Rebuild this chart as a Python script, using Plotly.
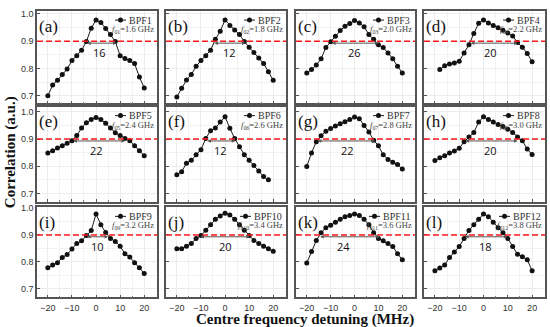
import plotly.graph_objects as go

W, H = 550, 327

x_full = [-20, -18, -16, -14, -12, -10, -8, -6, -4, -2, 0, 2, 4, 6, 8, 10, 12, 14, 16, 18, 20]
x_from_m18 = x_full[1:]
x_to_18 = x_full[:-1]

bpf1 = [0.700, 0.740, 0.757, 0.778, 0.798, 0.829, 0.847, 0.867, 0.899, 0.948, 0.978, 0.969, 0.947, 0.925, 0.899, 0.847, 0.837, 0.829, 0.818, 0.769, 0.729]
bpf2 = [0.696, 0.728, 0.758, 0.778, 0.808, 0.829, 0.847, 0.867, 0.907, 0.937, 0.978, 0.958, 0.941, 0.925, 0.899, 0.878, 0.859, 0.839, 0.818, 0.788, 0.757]
bpf3 = [0.784, 0.796, 0.813, 0.836, 0.877, 0.898, 0.918, 0.939, 0.955, 0.965, 0.976, 0.967, 0.953, 0.925, 0.907, 0.887, 0.877, 0.857, 0.836, 0.808, 0.784]
bpf4 = [0.796, 0.810, 0.817, 0.820, 0.827, 0.857, 0.887, 0.928, 0.966, 0.978, 0.967, 0.958, 0.949, 0.940, 0.930, 0.919, 0.895, 0.878, 0.855, 0.825]
bpf5 = [0.849, 0.857, 0.867, 0.875, 0.885, 0.894, 0.913, 0.941, 0.960, 0.972, 0.979, 0.972, 0.958, 0.941, 0.923, 0.913, 0.902, 0.894, 0.875, 0.857, 0.839]
bpf6 = [0.769, 0.780, 0.811, 0.822, 0.842, 0.861, 0.902, 0.931, 0.941, 0.963, 0.982, 0.940, 0.902, 0.872, 0.842, 0.822, 0.803, 0.782, 0.762, 0.750]
bpf7 = [0.799, 0.849, 0.890, 0.912, 0.929, 0.939, 0.948, 0.956, 0.964, 0.972, 0.981, 0.975, 0.950, 0.926, 0.896, 0.875, 0.842, 0.825, 0.815, 0.806, 0.790]
bpf8 = [0.821, 0.831, 0.839, 0.849, 0.856, 0.866, 0.890, 0.908, 0.924, 0.963, 0.982, 0.972, 0.963, 0.954, 0.946, 0.936, 0.924, 0.908, 0.894, 0.863, 0.843]
bpf9 = [0.778, 0.788, 0.797, 0.816, 0.827, 0.848, 0.868, 0.878, 0.898, 0.916, 0.978, 0.938, 0.909, 0.887, 0.876, 0.858, 0.830, 0.818, 0.797, 0.778, 0.757]
bpf10 = [0.849, 0.849, 0.858, 0.868, 0.887, 0.898, 0.917, 0.938, 0.958, 0.970, 0.981, 0.974, 0.958, 0.938, 0.917, 0.898, 0.879, 0.868, 0.858, 0.849, 0.839]
bpf11 = [0.796, 0.838, 0.879, 0.908, 0.927, 0.936, 0.947, 0.958, 0.968, 0.972, 0.978, 0.972, 0.958, 0.938, 0.908, 0.887, 0.878, 0.868, 0.857, 0.830, 0.808]
bpf12 = [0.767, 0.777, 0.788, 0.816, 0.837, 0.857, 0.887, 0.916, 0.938, 0.958, 0.978, 0.968, 0.947, 0.927, 0.908, 0.887, 0.857, 0.828, 0.819, 0.808, 0.767]

series_x = [x_full, x_full, x_full, x_from_m18, x_full, x_to_18,
            x_full, x_full, x_full, x_full, x_full, x_full]
series_y = [bpf1, bpf2, bpf3, bpf4, bpf5, bpf6, bpf7, bpf8, bpf9, bpf10, bpf11, bpf12]
names = ["BPF%d" % (i + 1) for i in range(12)]
panel_tags = ["(a)", "(b)", "(c)", "(d)", "(e)", "(f)", "(g)", "(h)", "(i)", "(j)", "(k)", "(l)"]
centre_freqs = [1.6, 1.8, 2.0, 2.2, 2.4, 2.6, 2.8, 3.0, 3.2, 3.4, 3.6, 3.8]
threshold = 0.9

# bandwidth markers: left/right ends of the arrow, label value, label x
bw_left = [-4.3, -5.0, -10.0, -5.8, -10.0, -7.9, -16.0, -8.0, -4.3, -10.8, -15.0, -8.2]
bw_right = [8.5, 8.5, 10.0, 14.0, 12.0, 4.2, 8.6, 14.0, 5.0, 10.3, 10.7, 9.8]
bw_text = ["16", "12", "26", "20", "22", "12", "22", "20", "10", "20", "24", "18"]
bw_label_x = [1.5, 2.0, 0.0, 3.0, 0.0, -1.8, -3.0, 3.0, 0.4, 0.0, -4.7, 0.7]

# layout geometry (pixels)
cols = [(37, 157), (166, 286), (296, 415), (424, 545)]
rows = [(7.3, 100.7), (104, 200), (206, 297)]
yranges = [[0.672, 1.010], [0.670, 1.019], [0.668, 1.002]]
xrange_ = [-24.5, 25.3]

serif = "Liberation Serif, Times New Roman, serif"
sans = "Liberation Sans Narrow, Liberation Sans, Arial, sans-serif"

fig = go.Figure()
layout = dict(width=W, height=H, margin=dict(l=0, r=0, t=0, b=0),
              paper_bgcolor="white", plot_bgcolor="white", showlegend=False)
shapes = []
annotations = []

for i in range(12):
    r, c = divmod(i, 4)
    k = i + 1
    xa = "xaxis" if k == 1 else "xaxis%d" % k
    ya = "yaxis" if k == 1 else "yaxis%d" % k
    xr = "x" if k == 1 else "x%d" % k
    yr = "y" if k == 1 else "y%d" % k
    x0, x1 = cols[c]
    t0, t1 = rows[r]
    pw = x1 - x0
    layout[xa] = dict(
        domain=[x0 / W, x1 / W], range=xrange_, anchor=yr,
        tickmode="array", tickvals=[-20, -10, 0, 10, 20],
        showticklabels=(r == 2), ticks="inside", ticklen=3, tickcolor="#555",
        ticklabelstandoff=1,
        tickfont=dict(family=sans, size=9, color="#333"),
        showline=True, linecolor="#555", linewidth=1.5, mirror=True,
        showgrid=True, gridcolor="#ececec", gridwidth=0.6, zeroline=False,
        minor=dict(dtick=5, tick0=0, ticks="inside", ticklen=2, tickcolor="#777",
                   showgrid=True, gridcolor="#f2f2f2"),
    )
    layout[ya] = dict(
        domain=[1 - t1 / H, 1 - t0 / H], range=yranges[r], anchor=xr,
        tickmode="array", tickvals=[0.7, 0.8, 0.9, 1.0], ticktext=["0.7", "0.8", "0.9", "1.0"],
        showticklabels=(c == 0), ticks="inside", ticklen=3, tickcolor="#555",
        tickfont=dict(family=sans, size=9, color="#333"),
        showline=True, linecolor="#555", linewidth=1.5, mirror=True,
        showgrid=True, gridcolor="#ececec", gridwidth=0.6, zeroline=False,
        minor=dict(dtick=0.05, tick0=0.7, ticks="", showgrid=True, gridcolor="#f2f2f2"),
    )
    # threshold dashed line
    shapes.append(dict(type="line", xref=xr + " domain", yref=yr, x0=0, x1=1,
                       y0=threshold, y1=threshold,
                       line=dict(color="#ff1a1a", width=1.6, dash="6px,3px")))
    # data
    fig.add_trace(go.Scatter(x=series_x[i], y=series_y[i], mode="lines+markers",
                             xaxis=xr, yaxis=yr, name=names[i],
                             line=dict(color="#1a1a1a", width=1),
                             marker=dict(color="#111", size=5)))
    # bandwidth arrow
    annotations.append(dict(x=bw_right[i], y=0.893, ax=bw_left[i], ay=0.893,
                            xref=xr, yref=yr, axref=xr, ayref=yr, text="",
                            showarrow=True, arrowhead=2, arrowside="end+start",
                            arrowsize=0.7, arrowwidth=1, arrowcolor="#555"))
    annotations.append(dict(x=bw_label_x[i], y=0.857, xref=xr, yref=yr,
                            text=bw_text[i], showarrow=False,
                            font=dict(family="Open Sans, Liberation Sans, sans-serif", size=11, color="#111")))
    # panel tag
    annotations.append(dict(x=0.0, y=1 - (t0 + 15) / H, xref=xr + " domain", yref="paper",
                            text=panel_tags[i], showarrow=False, xanchor="left", yanchor="middle",
                            font=dict(family=serif, size=17, color="#111")))
    # legend-like key (line + marker, then name)
    long_name = len(names[i]) > 4
    text_right_px = pw - (1 if long_name else 3)
    text_w_px = 31 if long_name else 25
    line_end_px = text_right_px - text_w_px - 3
    line_start_px = line_end_px - 11
    ly = 1 - (t0 + 9) / H
    shapes.append(dict(type="line", xref=xr + " domain", yref="paper",
                       x0=line_start_px / pw, x1=line_end_px / pw,
                       y0=ly, y1=ly, line=dict(color="#1a1a1a", width=1)))
    shapes.append(dict(type="circle", xref=xr + " domain", yref="paper",
                       xsizemode="pixel", ysizemode="pixel",
                       xanchor=(line_start_px + line_end_px) / 2 / pw, yanchor=ly,
                       x0=-2.5, x1=2.5, y0=-2.5, y1=2.5,
                       fillcolor="#111", line=dict(color="#111", width=0)))
    annotations.append(dict(x=(line_end_px + 2) / pw, y=ly, xref=xr + " domain", yref="paper",
                            text=names[i], showarrow=False, xanchor="left", yanchor="middle",
                            borderpad=0,
                            font=dict(family=serif, size=10, color="#333")))
    annotations.append(dict(x=0.985, y=1 - (t0 + 18.5) / H, xref=xr + " domain", yref="paper",
                            text="<i>f</i><sub>0%d</sub>=%.1f GHz" % (k, centre_freqs[i]),
                            showarrow=False, xanchor="right", yanchor="middle", borderpad=0,
                            font=dict(family=serif, size=8.5, color="#444")))

annotations.append(dict(x=10 / W, y=1 - 150 / H, xref="paper", yref="paper",
                        text="<b>Correlation (a.u.)</b>", showarrow=False, textangle=-90,
                        xanchor="center", yanchor="middle",
                        font=dict(family=serif, size=15, color="#111")))
annotations.append(dict(x=305 / W, y=1 - 319 / H, xref="paper", yref="paper",
                        text="<b>Centre frequency detuning (MHz)</b>", showarrow=False,
                        xanchor="center", yanchor="middle", borderpad=0,
                        font=dict(family=serif, size=15, color="#111")))

layout["shapes"] = shapes
layout["annotations"] = annotations
fig.update_layout(**layout)
fig.write_html("out.html", config={"displayModeBar": False},
               post_script="document.body.style.margin='0px';document.body.style.padding='0px';")
